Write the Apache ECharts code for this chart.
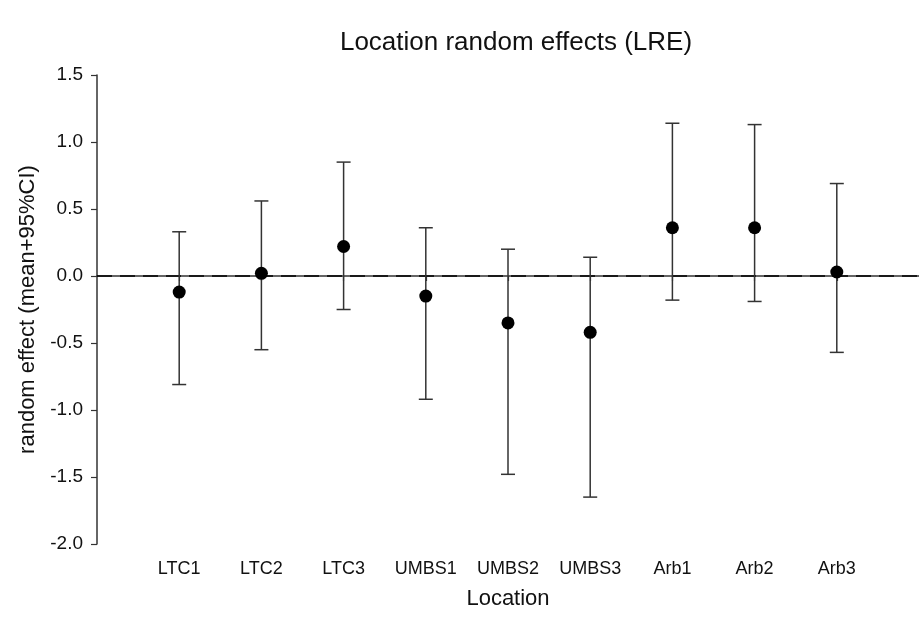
<!DOCTYPE html>
<html>
<head>
<meta charset="utf-8">
<script src="https://cdn.jsdelivr.net/npm/echarts@6/dist/echarts.min.js"></script>
<style>
  html, body { margin: 0; padding: 0; background: #fff; }
  #chart { width: 919px; height: 620px; }
</style>
</head>
<body>
<div id="chart"></div>
<script>
// location names along the x axis
const locations = ["LTC1", "LTC2", "LTC3", "UMBS1", "UMBS2", "UMBS3", "Arb1", "Arb2", "Arb3"];
// random effect means and 95% CI bounds
const means = [-0.12, 0.02, 0.22, -0.15, -0.35, -0.42, 0.36, 0.36, 0.03];
const lower = [-0.81, -0.55, -0.25, -0.92, -1.48, -1.65, -0.18, -0.19, -0.57];
const upper = [0.33, 0.56, 0.85, 0.36, 0.20, 0.14, 1.14, 1.13, 0.69];
const yTicks = [-2.0, -1.5, -1.0, -0.5, 0.0, 0.5, 1.0, 1.5];
const refLevel = 0; // dashed reference line

const positions = locations.map((n, i) => i + 1);
const font = "Liberation Sans, Arial, sans-serif";
const ink = "#333";

const chart = echarts.init(document.getElementById("chart"));

const barData = positions.map((x, i) => [x, lower[i], upper[i]]);
const dotData = positions.map((x, i) => [x, means[i]]);

const option = {
  animation: false,
  backgroundColor: "#fff",
  title: {
    text: "Location random effects (LRE)",
    left: 511,
    textAlign: "center",
    top: 25,
    textStyle: { fontFamily: font, fontSize: 26, fontWeight: "normal", color: "#111" }
  },
  grid: { left: 97, top: 75, width: 829, height: 469 },
  xAxis: {
    type: "value",
    min: 0,
    max: 10,
    interval: 1,
    name: "Location",
    nameLocation: "middle",
    nameGap: 44,
    nameTextStyle: { fontFamily: font, fontSize: 22, color: "#111" },
    axisLine: { lineStyle: { color: ink, width: 1.5 } },
    axisTick: { length: 5, lineStyle: { color: ink, width: 1.2 }, customValues: positions },
    axisLabel: {
      fontFamily: font, fontSize: 18, color: "#111", margin: 16,
      customValues: positions,
      formatter: v => locations[v - 1] || ""
    },
    splitLine: { show: false }
  },
  yAxis: {
    type: "value",
    min: -2,
    max: 1.5,
    interval: 0.5,
    name: "random effect (mean+95%CI)",
    nameLocation: "middle",
    nameGap: 58,
    nameTextStyle: { fontFamily: font, fontSize: 22, color: "#111" },
    axisLine: { show: true, lineStyle: { color: ink, width: 1.5 } },
    axisTick: { show: true, length: 6, lineStyle: { color: ink, width: 1.2 }, customValues: yTicks },
    axisLabel: {
      fontFamily: font, fontSize: 19, color: "#111", margin: 14,
      customValues: yTicks,
      formatter: v => v.toFixed(1)
    },
    splitLine: { show: false }
  },
  series: [
    {
      type: "line",
      name: "zero",
      data: [[0, refLevel], [10, refLevel]],
      symbol: "none",
      silent: true,
      lineStyle: { color: "#000", width: 1.6, type: [15, 8] },
      z: 1
    },
    {
      type: "custom",
      name: "CI",
      data: barData,
      renderItem: function (params, api) {
        const x = api.value(0);
        const lo = api.coord([x, api.value(1)]);
        const hi = api.coord([x, api.value(2)]);
        const cap = 7;
        const style = { stroke: ink, lineWidth: 1.5 };
        return {
          type: "group",
          children: [
            { type: "line", shape: { x1: lo[0], y1: lo[1], x2: hi[0], y2: hi[1] }, style: style },
            { type: "line", shape: { x1: lo[0] - cap, y1: lo[1], x2: lo[0] + cap, y2: lo[1] }, style: style },
            { type: "line", shape: { x1: hi[0] - cap, y1: hi[1], x2: hi[0] + cap, y2: hi[1] }, style: style }
          ]
        };
      },
      z: 2
    },
    {
      type: "scatter",
      name: "mean",
      data: dotData,
      symbol: "circle",
      symbolSize: 13,
      itemStyle: { color: "#000", opacity: 1 },
      z: 4
    }
  ]
};

chart.setOption(option);
</script>
</body>
</html>
